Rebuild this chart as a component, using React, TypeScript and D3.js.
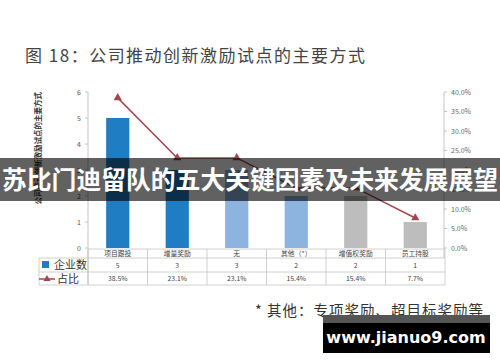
import React from "react";
import * as d3 from "d3";

const categories = ["项目跟投", "增量奖励", "无", "其他（*）", "增值权奖励", "员工持股"];
const companyCounts = [5, 3, 3, 2, 2, 1];
const shares = [38.5, 23.1, 23.1, 15.4, 15.4, 7.7];
const shareLabels = ["38.5%", "23.1%", "23.1%", "15.4%", "15.4%", "7.7%"];
const barColors = ["#1f7dc3", "#1f7dc3", "#8db4de", "#8db4de", "#bdbdbd", "#bdbdbd"];
const leftTicks = [0, 1, 2, 3, 4, 5, 6];
const rightTicks = [0, 5, 10, 15, 20, 25, 30, 35, 40];

const W = 500;
const H = 362;
const FONT = "'Noto Sans CJK SC', 'Noto Sans', sans-serif";

export default function App() {
  const x = d3
    .scaleBand<string>()
    .domain(categories)
    .range([88, 445])
    .paddingInner(0.61)
    .paddingOuter(0.305);
  const yL = d3.scaleLinear().domain([0, 6]).range([248, 92]);
  const yR = d3.scaleLinear().domain([0, 40]).range([248, 92]);
  const step = x.step();
  const x0 = x.range()[0];
  const cx = (c: string) => (x(c) as number) + x.bandwidth() / 2;

  const line = d3
    .line<number>()
    .x((_, i) => cx(categories[i]))
    .y((d) => yR(d));
  const tri = d3.symbol(d3.symbolTriangle, 30)() as string;
  const triSmall = d3.symbol(d3.symbolTriangle, 22)() as string;

  const lineColor = "#a3464f";
  const grid = "#c4c4c4";
  const rowTop = 249;
  const row1 = 258;
  const row2 = 272;
  const row3 = 285;
  const legendLeft = 39;
  const tableRight = x0 + step * categories.length;

  return (
    <svg
      width={W}
      height={H}
      style={{ position: "absolute", left: 0, top: 0, background: "#fff" }}
      fontFamily={FONT}
    >
      <rect x={0} y={0} width={W} height={H} fill="#fff" />
      {/* title */}
      <text x={25} y={62} fontSize={17} fill="#444" textLength={340} lengthAdjust="spacing">
        图 18：公司推动创新激励试点的主要方式
      </text>

      {/* left rotated axis label */}
      <text
        transform={`translate(41,92) rotate(-90)`}
        textAnchor="end"
        fontSize={7.5}
        fontWeight="bold"
        fill="#333"
      >
        公司推动创新激励试点的主要方式
      </text>

      {/* left axis */}
      <line x1={88} x2={88} y1={92} y2={row3} stroke={grid} strokeWidth={1} />
      {leftTicks.map((t) => (
        <g key={"l" + t}>
          <line x1={85} x2={88} y1={yL(t)} y2={yL(t)} stroke={grid} />
          <text x={81} y={yL(t) + 2.5} textAnchor="end" fontSize={7} fill="#555">
            {t}
          </text>
        </g>
      ))}

      {/* right axis */}
      <line x1={444} x2={444} y1={92} y2={row1} stroke={grid} strokeWidth={1} />
      {rightTicks.map((t) => (
        <g key={"r" + t}>
          <line x1={444} x2={447} y1={yR(t)} y2={yR(t)} stroke={grid} />
          <text x={451} y={yR(t) + 2.5} fontSize={7} fill="#666">
            {t.toFixed(1) + "%"}
          </text>
        </g>
      ))}

      {/* bars */}
      {categories.map((c, i) => (
        <rect
          key={"b" + c}
          x={x(c)}
          y={yL(companyCounts[i])}
          width={x.bandwidth()}
          height={yL(0) - yL(companyCounts[i])}
          fill={barColors[i]}
        />
      ))}

      {/* line */}
      <path d={line(shares) as string} fill="none" stroke={lineColor} strokeWidth={1.5} />
      {shares.map((s, i) => (
        <path
          key={"m" + i}
          d={tri}
          transform={`translate(${cx(categories[i])},${yR(s)})`}
          fill={lineColor}
        />
      ))}

      {/* table */}
      <g stroke={grid} strokeWidth={0.8} fill="none">
        <line x1={x0} x2={tableRight} y1={rowTop} y2={rowTop} />
        <line x1={legendLeft} x2={tableRight} y1={row1} y2={row1} />
        <line x1={legendLeft} x2={tableRight} y1={row2} y2={row2} />
        <line x1={legendLeft} x2={tableRight} y1={row3} y2={row3} />
        <line x1={legendLeft} x2={legendLeft} y1={row1} y2={row3} />
        {d3.range(categories.length + 1).map((i) => (
          <line key={"v" + i} x1={x0 + i * step} x2={x0 + i * step} y1={rowTop} y2={row3} />
        ))}
      </g>
      {categories.map((c, i) => (
        <g key={"t" + c} fontSize={6.8} fill="#444" textAnchor="middle">
          <text x={cx(c)} y={256}>{c}</text>
          <text x={cx(c)} y={267.5}>{companyCounts[i]}</text>
          <text x={cx(c)} y={281}>{shareLabels[i]}</text>
        </g>
      ))}

      {/* legend */}
      <rect x={42} y={261} width={7} height={7} fill="#1f7dc3" />
      <text x={54} y={269} fontSize={11} fill="#333">企业数</text>
      <line x1={39} x2={55} y1={279} y2={279} stroke={lineColor} strokeWidth={1.5} />
      <path d={triSmall} transform="translate(47,279)" fill={lineColor} />
      <text x={57} y={283} fontSize={11} fill="#333">占比</text>

      {/* footnote */}
      <text x={255} y={316} fontSize={14.5} fill="#333" textLength={228} lengthAdjust="spacing">
        * 其他：专项奖励、超目标奖励等
      </text>

      {/* overlay banner */}
      <rect x={0} y={158} width={W} height={43} fill="rgba(0,0,0,0.62)" />
      <text
        x={W / 2}
        y={189}
        textAnchor="middle"
        fontSize={24.5}
        fontWeight="bold"
        fill="#fff"
        textLength={496}
        lengthAdjust="spacingAndGlyphs"
      >
        苏比门迪留队的五大关键因素及未来发展展望
      </text>

      {/* watermark box */}
      <rect x={323} y={315} width={167} height={8} fill="#555" />
      <rect x={323} y={323} width={167} height={30} fill="#000" />
      <text
        x={406}
        y={343}
        textAnchor="middle"
        fontSize={16}
        fontWeight="bold"
        fill="#fff"
        fontFamily="'DejaVu Sans', sans-serif"
      >
        www.jianuo9.com
      </text>
    </svg>
  );
}
